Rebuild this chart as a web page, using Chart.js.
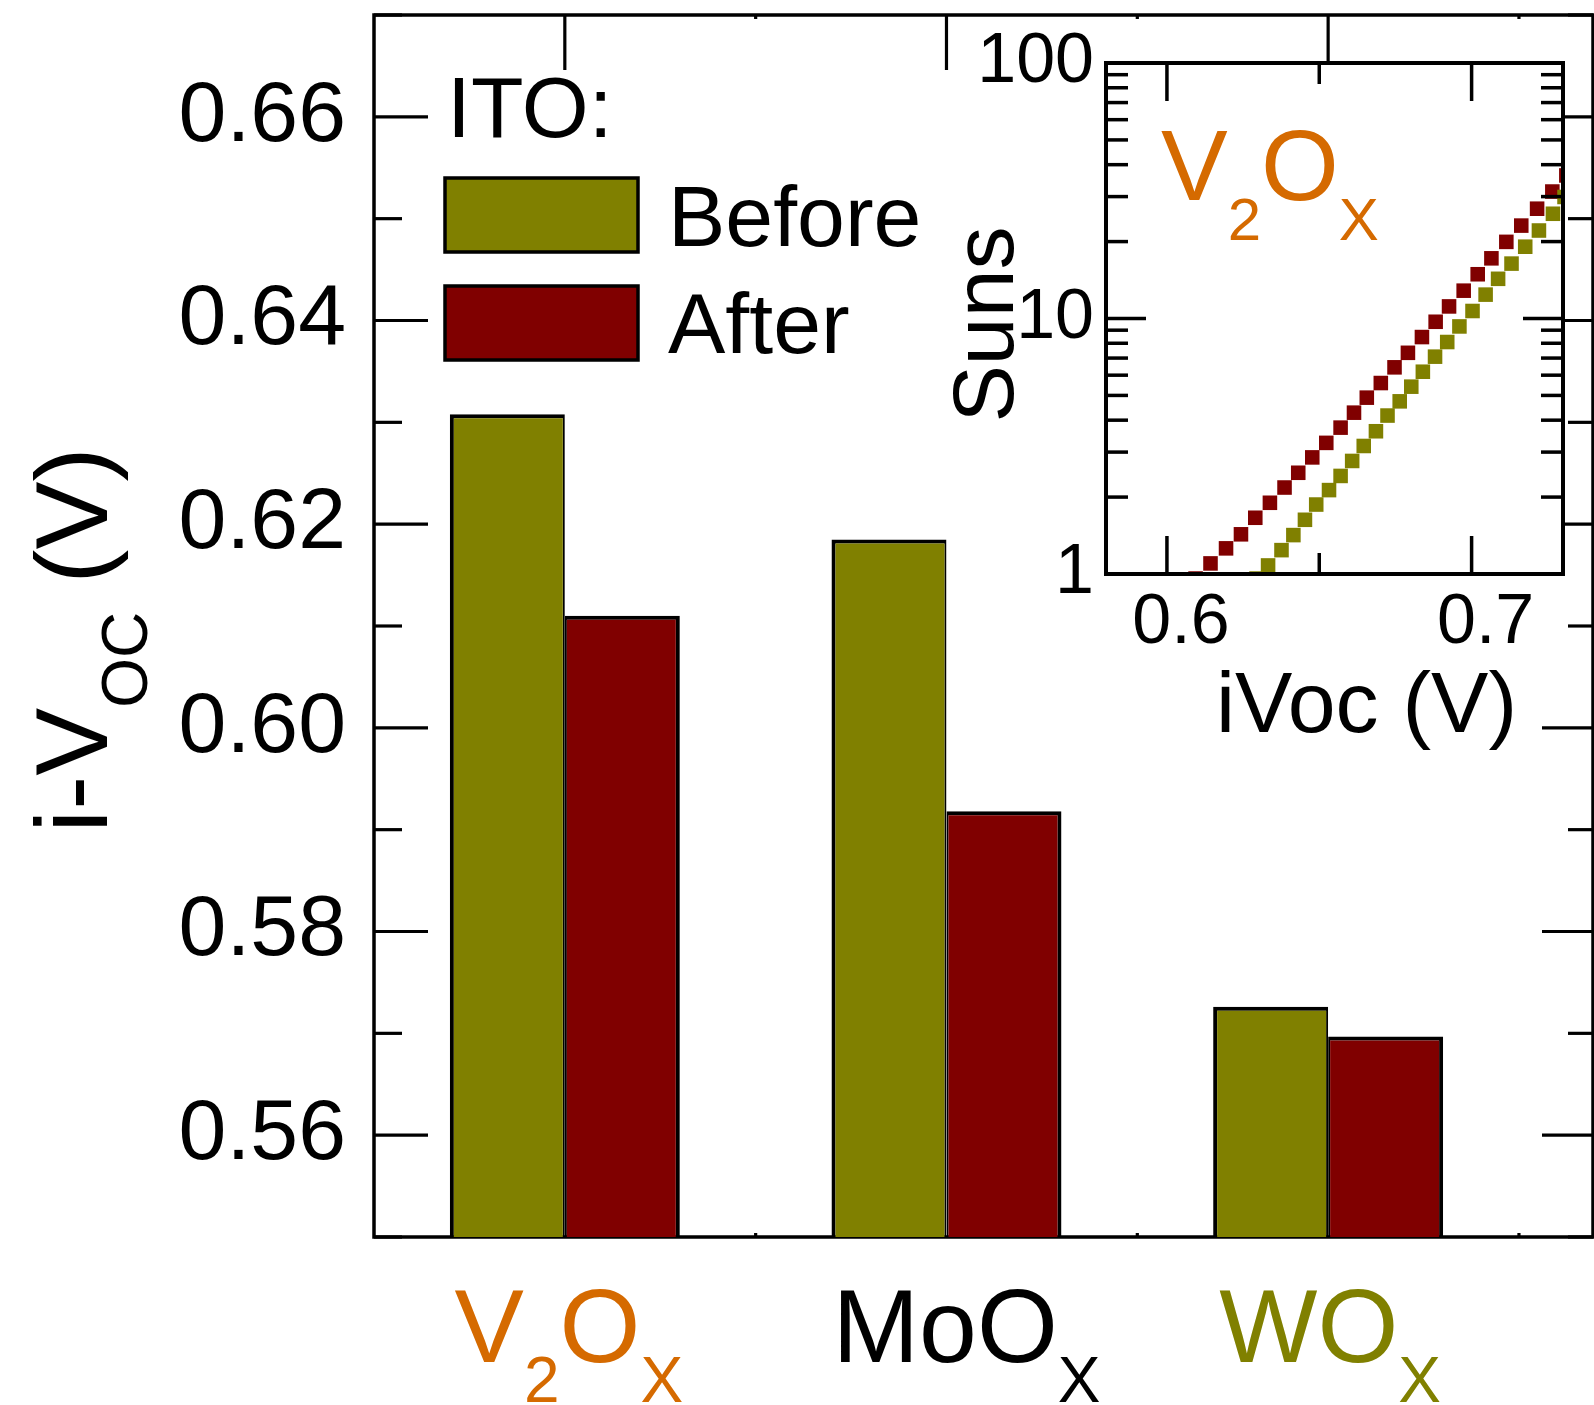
<!DOCTYPE html>
<html>
<head>
<meta charset="utf-8">
<title>i-Voc before and after ITO deposition</title>
<script src="https://cdn.jsdelivr.net/npm/chart.js@4.4.1/dist/chart.umd.min.js"></script>
<style>
  html, body { margin: 0; padding: 0; background: #ffffff; }
  #wrap { position: relative; width: 1594px; height: 1405px; overflow: hidden; background: #ffffff; }
  #main { position: absolute; left: 0; top: 0; }
  #inset { position: absolute; left: 900px; top: 0; }
</style>
</head>
<body>
<div id="wrap">
  <canvas id="main" width="1594" height="1405"></canvas>
  <canvas id="inset" width="694" height="760"></canvas>
</div>
<script>
// ---- Main bar chart: implied Voc per hole-selective oxide ----
const categories = ['V2Ox', 'MoOx', 'WOx'];
const categoryPositions = [1, 2, 3];
const categoryColors = ['#D56A00', '#000000', '#808000'];
const seriesNames = ['Before', 'After'];
const seriesColors = ['#808000', '#800000'];
const vocBefore = [0.6308, 0.6185, 0.5726];
const vocAfter = [0.6110, 0.5918, 0.5697];
const yMajorTicks = [0.56, 0.58, 0.60, 0.62, 0.64, 0.66];
const yMinorTicks = [0.55, 0.57, 0.59, 0.61, 0.63, 0.65, 0.67];
const xMinorTicks = [1.5, 2.5, 3.5];

// ---- Inset: Suns-Voc curves for V2Ox ----
const insetBeforeV = [0.6294, 0.6332, 0.6376, 0.6415, 0.6453, 0.6490, 0.6532, 0.6570, 0.6608, 0.6646,
  0.6686, 0.6724, 0.6764, 0.6802, 0.6840, 0.6880, 0.6920, 0.6960, 0.7003, 0.7046,
  0.7087, 0.7131, 0.7176, 0.7221, 0.7267, 0.7305];
const insetBeforeSuns = [0.96, 1.08, 1.24, 1.42, 1.63, 1.87, 2.13, 2.42, 2.77, 3.17,
  3.62, 4.17, 4.74, 5.41, 6.19, 7.09, 8.09, 9.31, 10.7, 12.4,
  14.3, 16.4, 19.1, 22.1, 25.7, 29.9];
const insetAfterV = [0.6094, 0.6143, 0.6194, 0.6243, 0.6290, 0.6338, 0.6386, 0.6431, 0.6477, 0.6523,
  0.6570, 0.6614, 0.6656, 0.6702, 0.6747, 0.6791, 0.6837, 0.6882, 0.6926, 0.6974,
  0.7020, 0.7065, 0.7114, 0.7163, 0.7215, 0.7265, 0.7311];
const insetAfterSuns = [0.96, 1.10, 1.26, 1.43, 1.66, 1.90, 2.18, 2.49, 2.86, 3.26,
  3.74, 4.28, 4.90, 5.59, 6.44, 7.34, 8.46, 9.71, 11.15, 12.85,
  14.9, 17.2, 19.95, 23.1, 26.9, 31.4, 36.3];
const insetXTicks = [0.6, 0.7];
const insetXMinor = [0.65];
const insetYTicks = [1, 10, 100];
const insetYMinor = [2, 3, 4, 5, 6, 7, 8, 9, 20, 30, 40, 50, 60, 70, 80, 90];

const FONT = '"Liberation Sans", Arial, Helvetica, sans-serif';
Chart.defaults.font.family = FONT;
Chart.defaults.color = '#000000';

// Text split into normal / subscript runs
const labelParts = {
  'V2Ox': [{ t: 'V' }, { t: '2', sub: true }, { t: 'O' }, { t: 'X', sub: true }],
  'MoOx': [{ t: 'MoO' }, { t: 'X', sub: true }],
  'WOx': [{ t: 'WO' }, { t: 'X', sub: true }]
};
// small horizontal nudges of the category captions
const labelNudge = [4, 20, 2];
const yTitleParts = [{ t: 'i-V' }, { t: 'OC', sub: true }, { t: ' (V)' }];

function partsWidth(ctx, parts, size, subSize) {
  let w = 0;
  for (const p of parts) {
    ctx.font = (p.sub ? subSize : size) + 'px ' + FONT;
    w += ctx.measureText(p.t).width;
  }
  return w;
}
function drawParts(ctx, parts, x, y, size, subSize, drop, color) {
  ctx.fillStyle = color;
  ctx.textAlign = 'left';
  ctx.textBaseline = 'alphabetic';
  let cx = x;
  for (const p of parts) {
    ctx.font = (p.sub ? subSize : size) + 'px ' + FONT;
    ctx.fillText(p.t, cx, p.sub ? y + drop : y);
    cx += ctx.measureText(p.t).width;
  }
}
function seg(ctx, x1, y1, x2, y2) {
  ctx.beginPath();
  ctx.moveTo(x1, y1);
  ctx.lineTo(x2, y2);
  ctx.stroke();
}

// Frame, inward ticks, legend and text for the bar chart
const mainDecor = {
  id: 'mainDecor',
  beforeDatasetsDraw(chart) {
    const { ctx, chartArea: a, scales: { x, y } } = chart;
    ctx.save();
    ctx.strokeStyle = '#000';
    ctx.lineWidth = 3.5;
    ctx.strokeRect(a.left, a.top, a.right - a.left, a.bottom - a.top);
    ctx.lineWidth = 3.2;
    for (const v of yMajorTicks) {
      const py = y.getPixelForValue(v);
      seg(ctx, a.left, py, a.left + 54, py);
      seg(ctx, a.right, py, a.right - 51, py);
    }
    for (const v of yMinorTicks) {
      const py = y.getPixelForValue(v);
      seg(ctx, a.left, py, a.left + 28, py);
      seg(ctx, a.right, py, a.right - 25, py);
    }
    for (const v of categoryPositions) {
      const px = x.getPixelForValue(v);
      seg(ctx, px, a.top, px, a.top + 55);
    }
    for (const v of xMinorTicks) {
      const px = x.getPixelForValue(v);
      seg(ctx, px, a.top, px, a.top + 4);
      seg(ctx, px, a.bottom, px, a.bottom - 4);
    }
    ctx.restore();
  },
  afterDraw(chart) {
    const { ctx, chartArea: a, scales: { x } } = chart;
    ctx.save();

    // legend
    ctx.fillStyle = '#000';
    ctx.textAlign = 'left';
    ctx.textBaseline = 'alphabetic';
    ctx.font = '86px ' + FONT;
    ctx.fillText('ITO:', a.left + 73, 137);
    const rows = [178, 286];
    const textBase = [246, 353];
    chart.data.datasets.forEach((ds, i) => {
      ctx.fillStyle = ds.backgroundColor;
      ctx.fillRect(a.left + 71, rows[i], 193, 74);
      ctx.strokeStyle = '#000';
      ctx.lineWidth = 3.5;
      ctx.strokeRect(a.left + 71, rows[i], 193, 74);
      ctx.fillStyle = '#000';
      ctx.font = '86px ' + FONT;
      ctx.fillText(ds.label, a.left + 294, textBase[i]);
    });

    // category labels
    categories.forEach((c, i) => {
      const parts = labelParts[c];
      const w = partsWidth(ctx, parts, 104, 64);
      const cx = x.getPixelForValue(categoryPositions[i]) + labelNudge[i];
      drawParts(ctx, parts, cx - w / 2, 1362, 104, 64, 40, categoryColors[i]);
    });

    // y-axis title (rotated)
    const tw = partsWidth(ctx, yTitleParts, 102, 64);
    const midY = (a.top + a.bottom) / 2 + 14;
    ctx.translate(107, midY + tw / 2);
    ctx.rotate(-Math.PI / 2);
    drawParts(ctx, yTitleParts, 0, 0, 102, 64, 40, '#000');
    ctx.restore();
  }
};

new Chart(document.getElementById('main'), {
  type: 'bar',
  data: {
    datasets: [
      {
        label: seriesNames[0],
        data: categoryPositions.map((p, i) => ({ x: p, y: vocBefore[i] })),
        backgroundColor: seriesColors[0],
        borderColor: '#000000',
        borderWidth: { top: 4, left: 4, right: 2, bottom: 0 },
        borderSkipped: 'start',
        categoryPercentage: 0.6026,
        barPercentage: 1
      },
      {
        label: seriesNames[1],
        data: categoryPositions.map((p, i) => ({ x: p, y: vocAfter[i] })),
        backgroundColor: seriesColors[1],
        borderColor: '#000000',
        borderWidth: { top: 4, left: 2, right: 4, bottom: 0 },
        borderSkipped: 'start',
        categoryPercentage: 0.6026,
        barPercentage: 1
      }
    ]
  },
  options: {
    responsive: false,
    animation: false,
    devicePixelRatio: 1,
    events: [],
    layout: { padding: { top: 15, right: 1, bottom: 168, left: 0 } },
    plugins: { legend: { display: false }, tooltip: { enabled: false } },
    scales: {
      x: {
        type: 'linear',
        min: 0.5,
        max: 3.694,
        offset: false,
        display: false,
        afterBuildTicks: s => { s.ticks = categoryPositions.map(v => ({ value: v })); }
      },
      y: {
        type: 'linear',
        min: 0.55,
        max: 0.67,
        beginAtZero: false,
        position: 'left',
        grid: { display: false, drawTicks: false },
        border: { display: false },
        afterBuildTicks: s => { s.ticks = yMajorTicks.map(v => ({ value: v })); },
        ticks: {
          autoSkip: false,
          padding: 28,
          color: '#000',
          font: { size: 86 },
          callback: v => Number(v).toFixed(2)
        },
        afterFit: s => { s.width = 374; s.paddingTop = 0; s.paddingBottom = 0; }
      }
    }
  },
  plugins: [mainDecor]
});

// Frame, ticks and text for the Suns-Voc inset
const insetDecor = {
  id: 'insetDecor',
  beforeDraw(chart) {
    const { ctx, chartArea: a } = chart;
    ctx.save();
    ctx.fillStyle = '#ffffff';
    ctx.fillRect(a.left, a.top, a.right - a.left, a.bottom - a.top);
    ctx.restore();
  },
  afterDatasetsDraw(chart) {
    const { ctx, chartArea: a, scales: { x, y } } = chart;
    ctx.save();
    ctx.strokeStyle = '#000';
    ctx.lineWidth = 3.5;
    for (const v of insetYTicks) {
      const py = y.getPixelForValue(v);
      seg(ctx, a.left, py, a.left + 40, py);
      seg(ctx, a.right, py, a.right - 40, py);
    }
    for (const v of insetYMinor) {
      const py = y.getPixelForValue(v);
      seg(ctx, a.left, py, a.left + 22, py);
      seg(ctx, a.right, py, a.right - 22, py);
    }
    for (const v of insetXTicks) {
      const px = x.getPixelForValue(v);
      seg(ctx, px, a.bottom, px, a.bottom - 38);
      seg(ctx, px, a.top, px, a.top + 38);
    }
    for (const v of insetXMinor) {
      const px = x.getPixelForValue(v);
      seg(ctx, px, a.bottom, px, a.bottom - 21);
      seg(ctx, px, a.top, px, a.top + 21);
    }
    ctx.lineWidth = 4;
    ctx.strokeRect(a.left, a.top, a.right - a.left, a.bottom - a.top);
    ctx.restore();
  },
  afterDraw(chart) {
    const { ctx, chartArea: a } = chart;
    ctx.save();
    ctx.fillStyle = '#000';
    ctx.font = '86px ' + FONT;
    ctx.textBaseline = 'alphabetic';
    ctx.textAlign = 'center';
    ctx.fillText('iVoc (V)', (a.left + a.right) / 2 + 32, 732);

    ctx.save();
    ctx.translate(a.left - 93, (a.top + a.bottom) / 2 + 6);
    ctx.rotate(-Math.PI / 2);
    ctx.textAlign = 'center';
    ctx.fillText('Suns', 0, 0);
    ctx.restore();

    drawParts(ctx, labelParts['V2Ox'], a.left + 55, 200, 100, 60, 40, categoryColors[0]);
    ctx.restore();
  }
};

new Chart(document.getElementById('inset'), {
  type: 'scatter',
  data: {
    datasets: [
      {
        label: seriesNames[0],
        data: insetBeforeV.map((v, i) => ({ x: v, y: insetBeforeSuns[i] })),
        backgroundColor: seriesColors[0],
        borderWidth: 0,
        pointStyle: 'rect',
        pointRadius: 10.3,
        clip: 0
      },
      {
        label: seriesNames[1],
        data: insetAfterV.map((v, i) => ({ x: v, y: insetAfterSuns[i] })),
        backgroundColor: seriesColors[1],
        borderWidth: 0,
        pointStyle: 'rect',
        pointRadius: 10.3,
        clip: 0
      }
    ]
  },
  options: {
    responsive: false,
    animation: false,
    devicePixelRatio: 1,
    events: [],
    layout: { padding: { top: 63, right: 31, bottom: 0, left: 0 } },
    plugins: { legend: { display: false }, tooltip: { enabled: false } },
    scales: {
      x: {
        type: 'linear',
        min: 0.58,
        max: 0.73,
        grid: { display: false, drawTicks: false },
        border: { display: false },
        afterBuildTicks: s => { s.ticks = insetXTicks.map(v => ({ value: v })); },
        ticks: {
          autoSkip: false,
          maxRotation: 0,
          minRotation: 0,
          padding: 8,
          labelOffset: 14,
          color: '#000',
          font: { size: 70 },
          callback: v => Number(v).toFixed(1)
        },
        afterFit: s => { s.height = 186; s.paddingLeft = 0; s.paddingRight = 0; }
      },
      y: {
        type: 'logarithmic',
        min: 1,
        max: 100,
        grid: { display: false, drawTicks: false },
        border: { display: false },
        afterBuildTicks: s => { s.ticks = insetYTicks.map(v => ({ value: v })); },
        ticks: {
          autoSkip: false,
          padding: 12,
          color: '#000',
          font: { size: 70 },
          callback: v => String(v)
        },
        afterFit: s => { s.width = 206; s.paddingTop = 0; s.paddingBottom = 0; }
      }
    }
  },
  plugins: [insetDecor]
});
</script>
</body>
</html>
